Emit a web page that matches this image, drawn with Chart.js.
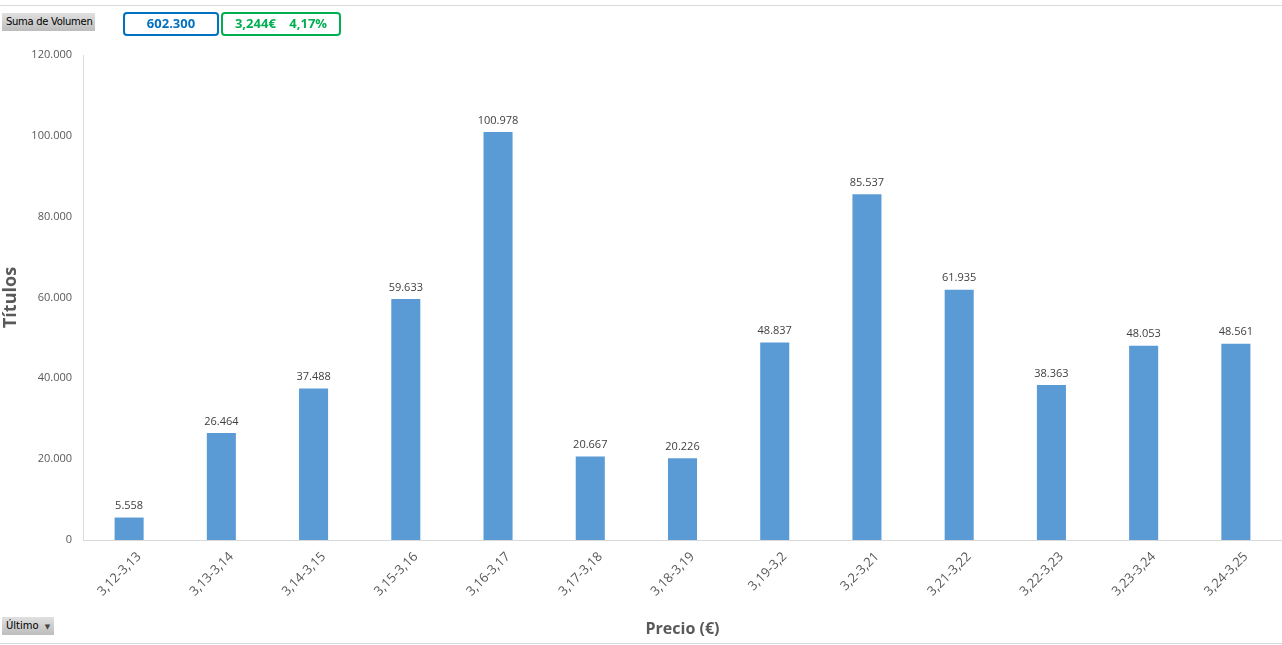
<!DOCTYPE html>
<html>
<head>
<meta charset="utf-8">
<script src="https://cdn.jsdelivr.net/npm/chart.js@4"></script>
<style>
  html, body { margin: 0; padding: 0; background: #fff; }
  body { width: 1282px; height: 645px; position: relative; overflow: hidden; font-family: "Open Sans", sans-serif; }
  #wrap { position: absolute; left: 0; top: 0; width: 1282px; height: 645px; }
  .rule { position: absolute; left: 0; width: 1282px; height: 1px; background: #d9d9d9; }
  .btn { position: absolute; background: linear-gradient(#e0e0e0, #bdbdbd); color: #000; font-family: "DejaVu Sans", sans-serif; font-size: 10px; line-height: 18px; padding: 0 4px; white-space: nowrap; box-sizing: border-box; height: 18px; overflow: hidden; }
  .box { position: absolute; border: 2px solid; border-radius: 4px; font-weight: bold; font-size: 13px; text-align: center; line-height: 19px; box-sizing: border-box; height: 24px; white-space: nowrap; }
</style>
</head>
<body>
<div id="wrap"><canvas id="chart" width="1282" height="645"></canvas></div>
<div class="rule" style="top:5px"></div>
<div class="rule" style="top:643px"></div>
<div class="btn" style="left:2px;top:13px;width:93px;letter-spacing:-0.3px;">Suma de Volumen</div>
<div class="box" style="left:123px;top:12px;width:96px;border-color:#0070c0;color:#0070c0;">602.300</div>
<div class="box" style="left:221px;top:12px;width:120px;border-color:#00b050;color:#00b050;">3,244€&nbsp;&nbsp;&nbsp;&nbsp;4,17%</div>
<div class="btn" style="left:2px;top:617px;width:52px;font-size:10px;">Último <span style="font-size:7px;color:#444;margin-left:3px;">&#9660;</span></div>
<script>
// datos del gráfico
const categorias = ['3,12-3,13', '3,13-3,14', '3,14-3,15', '3,15-3,16', '3,16-3,17', '3,17-3,18', '3,18-3,19',
    '3,19-3,2', '3,2-3,21', '3,21-3,22', '3,22-3,23', '3,23-3,24', '3,24-3,25'];
const volumen = [5558, 26464, 37488, 59633, 100978, 20667, 20226, 48837, 85537, 61935, 38363, 48053, 48561];
const ticksY = [0, 20000, 40000, 60000, 80000, 100000, 120000];

function miles(v) {
    return String(v).replace(/\B(?=(\d{3})+(?!\d))/g, '.');
}

// etiquetas encima de cada barra
const etiquetas = {
    id: 'etiquetas',
    afterDatasetsDraw(chart) {
        const ctx = chart.ctx;
        const meta = chart.getDatasetMeta(0);
        ctx.save();
        ctx.font = '11px "Open Sans"';
        ctx.fillStyle = '#404040';
        ctx.textAlign = 'center';
        ctx.textBaseline = 'bottom';
        meta.data.forEach(function (bar, i) {
            ctx.fillText(miles(volumen[i]), bar.x, bar.y - 6);
        });
        ctx.restore();
    }
};

const ctx = document.getElementById('chart');
new Chart(ctx, {
    type: 'bar',
    data: {
        labels: categorias,
        datasets: [{
            label: 'Volumen',
            data: volumen,
            backgroundColor: '#5b9bd5',
            barPercentage: 0.315,
            categoryPercentage: 1
        }]
    },
    options: {
        responsive: false,
        animation: false,
        layout: { padding: { left: 0, right: 0, top: 55, bottom: 0 } },
        plugins: {
            legend: { display: false },
            tooltip: { enabled: false }
        },
        scales: {
            x: {
                grid: { display: false, drawTicks: false },
                border: { color: '#d9d9d9' },
                ticks: {
                    color: '#595959',
                    font: { family: 'Open Sans', size: 13 },
                    minRotation: 45,
                    maxRotation: 45,
                    padding: 9,
                    labelOffset: 10
                },
                title: {
                    display: true,
                    text: 'Precio (€)',
                    color: '#595959',
                    font: { family: 'Open Sans', size: 16, weight: 'bold' },
                    padding: { top: 0, bottom: 6 }
                },
                afterFit: function (scale) { scale.height = 105; }
            },
            y: {
                min: 0,
                max: 120000,
                afterBuildTicks: function (scale) {
                    scale.ticks = ticksY.map(function (v) { return { value: v }; });
                },
                grid: { display: false, drawTicks: false },
                border: { color: '#d9d9d9' },
                ticks: {
                    color: '#595959',
                    font: { family: 'Open Sans', size: 11 },
                    padding: 11,
                    callback: function (v) { return miles(v); }
                },
                title: {
                    display: true,
                    text: 'Títulos',
                    color: '#595959',
                    font: { family: 'Open Sans', size: 18, weight: 'bold' },
                    padding: { top: 0, bottom: 0 }
                },
                afterFit: function (scale) { scale.width = 83; }
            }
        }
    },
    plugins: [etiquetas]
});
</script>
</body>
</html>
